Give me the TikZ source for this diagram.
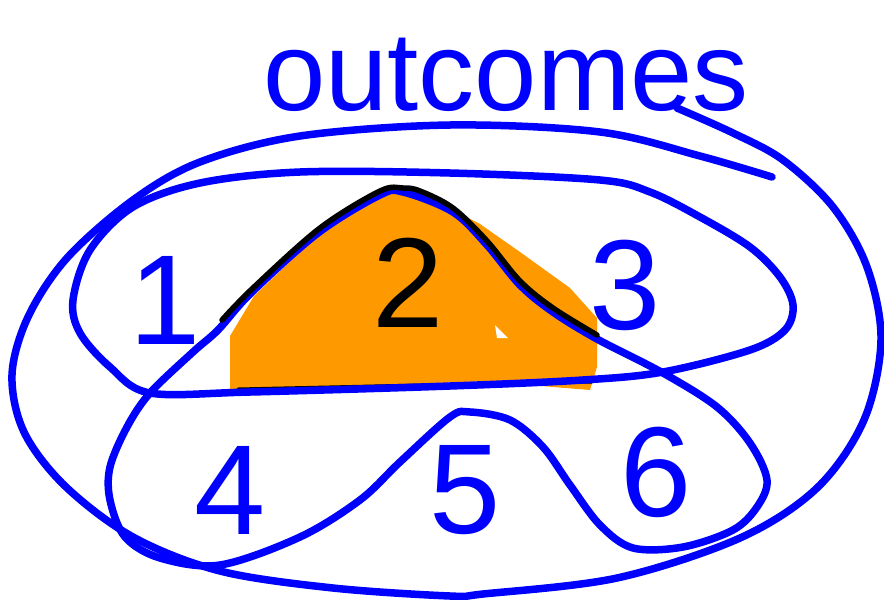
\documentclass[tikz,border=0pt]{standalone}
\usepackage{fontspec}
\setmainfont{Liberation Sans}
\definecolor{pen}{RGB}{0,0,255}
\definecolor{hl}{RGB}{255,153,0}
\begin{document}
\begin{tikzpicture}[x=1pt,y=-1pt,
  stroke/.style={draw=pen, line width=7.5pt, line cap=round, line join=round},
  ink/.style={draw=black, line width=5.5pt, line cap=round, line join=round},
  digit/.style={inner sep=0pt, font=\fontsize{128}{128}\selectfont},
  title/.style={inner sep=0pt, anchor=base, text=pen, font=\fontsize{112}{112}\selectfont}]
\useasboundingbox (0,0) rectangle (884,600);
% orange highlight
\fill[hl] (230,390) -- (230,336) -- (254,296) -- (320,233) -- (380,193) -- (407,186) -- (453,210)
  -- (480,224) -- (520,252) -- (570,288) -- (597,318) -- (597,367) -- (590,390) -- (553,387)
  -- (487,381) -- (420,384) -- (320,390) -- cycle;
\fill[white] (495,325) -- (497,338) -- (508,338) -- cycle;
\path[ink, line width=3pt] (238,389) -- (420,385) -- (592,382);
% outer loop
\path[stroke] plot[smooth, tension=0.55] coordinates {(677,108) (733,133) (783,160) (833,207)
  (867,267) (881,340) (864,420) (817,488) (740,538) (617,578) (483,594) (450,596) (333,588)
  (220,571) (133,537) (65,486) (24,432) (12,375) (28,317) (67,258) (133,200) (200,162)
  (300,136) (450,125) (600,132) (700,156) (772,177)};
% top loop (1,2,3)
\path[stroke] plot[smooth cycle, tension=0.55] coordinates {(150,393) (250,392) (450,386) (583,380)
  (663,372) (750,350) (785,330) (793,305) (780,277) (750,247) (700,217) (650,192) (600,180)
  (450,173) (300,172) (200,183) (133,207) (90,250) (73,300) (80,333) (110,367)};
% bottom loop (4,5,6)
\path[stroke] plot[smooth cycle, tension=0.55] coordinates {(403,192) (453,212) (487,245) (520,285)
  (553,312) (597,339) (663,373) (717,407) (750,443) (767,480) (757,507) (733,530) (683,547)
  (633,548) (600,525) (570,485) (543,447) (510,420) (470,412) (450,417) (400,462) (360,500)
  (300,537) (220,565) (160,558) (125,537) (110,500) (110,467) (127,427) (150,393)
  (193,352) (218,330) (251,293) (318,233) (380,195)};
% black over-tracing
\path[ink] plot[smooth, tension=0.55] coordinates {(597,335) (553,308) (520,281) (487,241) (453,208)
  (420,191) (403,188) (380,191) (320,228) (253,288) (222,320)};
% labels
\node[title] (t) at (506,110) {outcomes};
\node[digit, text=pen] (n1) at (165,300) {1};
\node[digit, text=black] (n2) at (408,283) {2};
\node[digit, text=pen] (n3) at (625,285) {3};
\node[digit, text=pen] (n4) at (230,490) {4};
\node[digit, text=pen] (n5) at (465,490) {5};
\node[digit, text=pen] (n6) at (656,472) {6};
\end{tikzpicture}
\end{document}
